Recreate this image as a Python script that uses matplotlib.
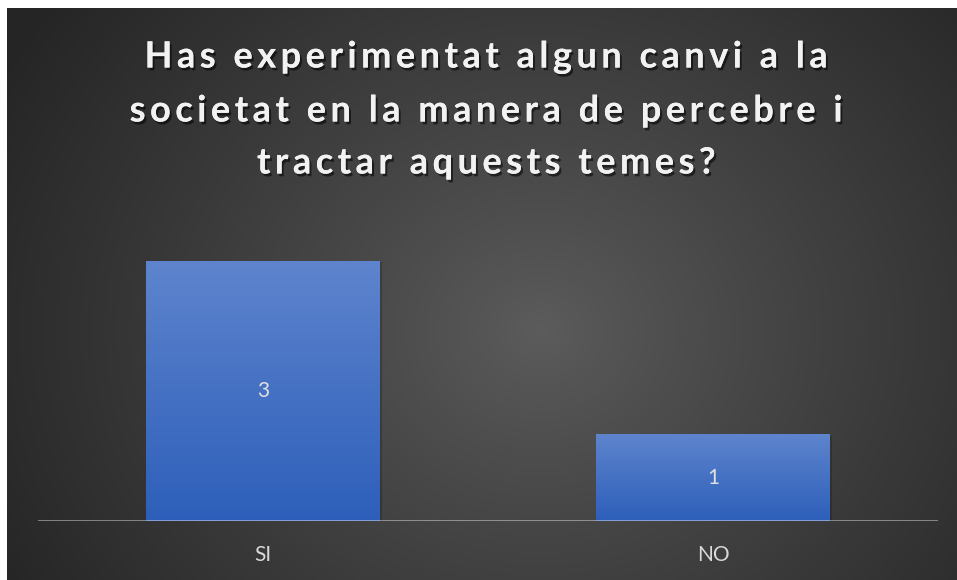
import matplotlib
matplotlib.use("Agg")
import matplotlib.pyplot as plt
import matplotlib.patheffects as pe
import numpy as np

# -------------------
# data
# -------------------
categories = ["SI", "NO"]
counts = [3, 1]
title_lines = [
    "Has experimentat algun canvi a la",
    "societat en la manera de percebre i",
    "tractar aquests temes?",
]

W, H = 957, 580
fig = plt.figure(figsize=(W / 100, H / 100), dpi=100, facecolor="white")

# -------------------
# dark radial gradient background (white strip top/left like the screenshot)
# -------------------
bg = fig.add_axes([7 / W, 0, (W - 7) / W, (H - 8) / H], zorder=0)
yy, xx = np.mgrid[8:H, 7:W]
d = np.sqrt((xx - 540.0) ** 2 + ((yy - 330.0) * 1.15) ** 2)
t = np.clip(d / 620.0, 0, 1) ** 0.9
inner = np.array([0x5c, 0x5c, 0x5c]) / 255
outer = np.array([0x25, 0x25, 0x25]) / 255
img = inner[None, None, :] * (1 - t[..., None]) + outer[None, None, :] * t[..., None]
bg.imshow(img, aspect="auto", interpolation="bilinear")
bg.axis("off")

# -------------------
# title, bold with wide letter spacing and a soft shadow
# -------------------
shadow = [pe.withSimplePatchShadow(offset=(1.5, -2), shadow_rgbFace="black", alpha=0.55), pe.Normal()]
line_y = [57, 111, 163]
for ln, yv in zip(title_lines, line_y):
    spaced = "\u200a\u200a".join(ln)
    fig.text(486 / W, 1 - yv / H, spaced, ha="center", va="center",
             fontsize=26, fontweight="bold", color="#f2f2f2",
             family=["Lato", "DejaVu Sans"], path_effects=shadow, zorder=5)

# -------------------
# bars
# -------------------
base_y = 521
top_y = base_y - 260 * 3.5 / 3
ax = fig.add_axes([38 / W, 1 - base_y / H, 900 / W, (base_y - top_y) / H], zorder=2)
ax.set_facecolor("none")
x = np.arange(len(categories))
bars = ax.bar(x, counts, width=0.518, color="#4472c4", zorder=2,
              path_effects=[pe.withSimplePatchShadow(offset=(2, -1), shadow_rgbFace="black", alpha=0.18), pe.Normal()])
grad = np.linspace(0, 1, 256)[:, None]
top_c = np.array([0x5e, 0x84, 0xcd]) / 255
bot_c = np.array([0x2d, 0x5f, 0xba]) / 255
gimg = (top_c[None, None, :] * (1 - grad[..., None]) + bot_c[None, None, :] * grad[..., None])
for b in bars:
    im = ax.imshow(gimg, aspect="auto", extent=[b.get_x(), b.get_x() + b.get_width(), 0, b.get_height()],
                   zorder=2.5, interpolation="bilinear")
    im.set_clip_path(b)
    ax.text(b.get_x() + b.get_width() / 2, b.get_height() / 2, str(int(b.get_height())),
            ha="center", va="center", color="#e0e0e0", fontsize=15, family="Lato", zorder=4)

ax.set_xlim(-0.5, len(categories) - 0.5)
ax.set_ylim(0, 3.5)
ax.axhline(0, color="white", alpha=0.45, linewidth=2, zorder=3)
for s in ax.spines.values():
    s.set_visible(False)
ax.set_yticks([])
ax.set_xticks(x)
ax.set_xticklabels(categories, color="#d9d9d9", fontsize=15, family="Lato")
ax.tick_params(axis="x", length=0, pad=17)

fig.savefig("out.png", dpi=100, facecolor=fig.get_facecolor())
